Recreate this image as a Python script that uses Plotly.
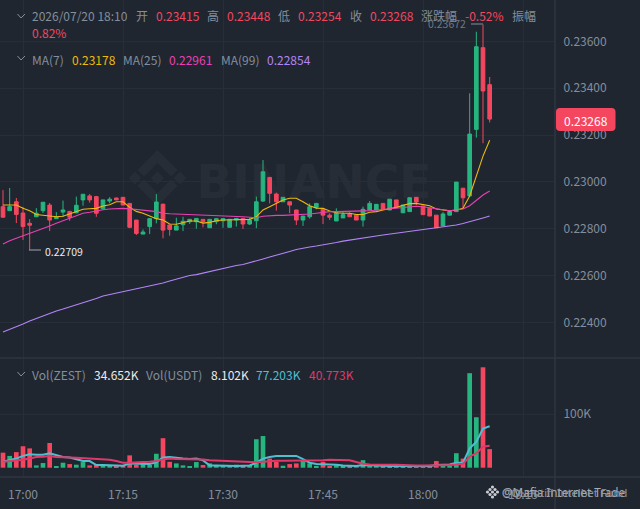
#!/usr/bin/python3

import pandas as pd
import plotly.graph_objects as go

#################
# data
#################
times = pd.date_range("2026-07-20 16:57", periods=74, freq="min")

opens = [0.22894, 0.22877, 0.22915, 0.22867, 0.22823, 0.22851, 0.22877, 0.22901, 0.22843, 0.22871,
         0.22874, 0.22868, 0.22923, 0.22940, 0.22937, 0.22885, 0.22918, 0.22931, 0.22934, 0.22908,
         0.22837, 0.22777, 0.22809, 0.22843, 0.22905, 0.22816, 0.22794, 0.22817, 0.22830, 0.22830,
         0.22840, 0.22804, 0.22830, 0.22834, 0.22806, 0.22837, 0.22844, 0.22820, 0.22834, 0.22918,
         0.23019, 0.22948, 0.22915, 0.22915, 0.22880, 0.22837, 0.22851, 0.22891, 0.22883, 0.22858,
         0.22833, 0.22846, 0.22863, 0.22858, 0.22837, 0.22880, 0.22880, 0.22908, 0.22880, 0.22923,
         0.22868, 0.22873, 0.22934, 0.22897, 0.22887, 0.22858, 0.22812, 0.22858, 0.22873, 0.22973,
         0.22940, 0.23224, 0.23573, 0.23415]
closes = [0.22849, 0.22894, 0.22861, 0.22809, 0.22815, 0.22866, 0.22913, 0.22837, 0.22851, 0.22880,
          0.22849, 0.22900, 0.22947, 0.22923, 0.22866, 0.22923, 0.22926, 0.22923, 0.22901, 0.22806,
          0.22780, 0.22786, 0.22843, 0.22914, 0.22794, 0.22797, 0.22812, 0.22832, 0.22840, 0.22844,
          0.22830, 0.22840, 0.22843, 0.22843, 0.22840, 0.22844, 0.22820, 0.22837, 0.22915, 0.23043,
          0.22951, 0.22915, 0.22934, 0.22901, 0.22837, 0.22854, 0.22894, 0.22908, 0.22858, 0.22849,
          0.22868, 0.22860, 0.22851, 0.22837, 0.22883, 0.22908, 0.22904, 0.22883, 0.22926, 0.22891,
          0.22901, 0.22932, 0.22914, 0.22860, 0.22854, 0.22804, 0.22863, 0.22873, 0.22999, 0.22932,
          0.23204, 0.23577, 0.23388, 0.23268]
highs = [0.22965, 0.22974, 0.22931, 0.22893, 0.22841, 0.22888, 0.22914, 0.22910, 0.22871, 0.22920,
         0.22876, 0.22937, 0.22948, 0.22948, 0.22940, 0.22923, 0.22935, 0.22933, 0.22935, 0.22910,
         0.22837, 0.22797, 0.22846, 0.22948, 0.22905, 0.22816, 0.22847, 0.22851, 0.22841, 0.22846,
         0.22841, 0.22841, 0.22846, 0.22846, 0.22841, 0.22846, 0.22846, 0.22846, 0.22937, 0.23093,
         0.23021, 0.22954, 0.22935, 0.22915, 0.22880, 0.22854, 0.22908, 0.22910, 0.22888, 0.22866,
         0.22887, 0.22873, 0.22870, 0.22858, 0.22894, 0.22918, 0.22905, 0.22910, 0.22927, 0.22923,
         0.22901, 0.22935, 0.22935, 0.22897, 0.22888, 0.22858, 0.22871, 0.22876, 0.22999, 0.22974,
         0.23378, 0.23641, 0.23672, 0.23448]
lows = [0.22849, 0.22877, 0.22824, 0.22752, 0.22709, 0.22850, 0.22867, 0.22790, 0.22843, 0.22851,
        0.22834, 0.22866, 0.22898, 0.22911, 0.22851, 0.22883, 0.22908, 0.22923, 0.22901, 0.22802,
        0.22773, 0.22777, 0.22777, 0.22823, 0.22759, 0.22770, 0.22794, 0.22790, 0.22820, 0.22800,
        0.22806, 0.22804, 0.22819, 0.22804, 0.22806, 0.22809, 0.22799, 0.22816, 0.22802, 0.22915,
        0.22908, 0.22877, 0.22915, 0.22866, 0.22816, 0.22812, 0.22843, 0.22883, 0.22820, 0.22837,
        0.22833, 0.22846, 0.22851, 0.22837, 0.22809, 0.22880, 0.22880, 0.22883, 0.22880, 0.22891,
        0.22868, 0.22873, 0.22901, 0.22860, 0.22854, 0.22803, 0.22812, 0.22858, 0.22873, 0.22887,
        0.22940, 0.23189, 0.23165, 0.23254]

ma7 = [0.22901, 0.22901, 0.22901, 0.22887, 0.22877, 0.22861, 0.22857, 0.22856, 0.22851, 0.22853,
       0.22863, 0.22873, 0.22883, 0.22885, 0.22887, 0.22897, 0.22902, 0.22915, 0.22915, 0.22891,
       0.22874, 0.22866, 0.22854, 0.22843, 0.22837, 0.22820, 0.22819, 0.22826, 0.22833, 0.22833,
       0.22824, 0.22827, 0.22834, 0.22837, 0.22837, 0.22840, 0.22840, 0.22840, 0.22851, 0.22880,
       0.22894, 0.22908, 0.22923, 0.22930, 0.22930, 0.22915, 0.22898, 0.22888, 0.22887, 0.22876,
       0.22868, 0.22866, 0.22866, 0.22861, 0.22861, 0.22870, 0.22873, 0.22880, 0.22884, 0.22891,
       0.22900, 0.22907, 0.22908, 0.22902, 0.22898, 0.22884, 0.22880, 0.22876, 0.22880, 0.22887,
       0.22940, 0.23029, 0.23110, 0.23178]
ma25 = [0.22735, 0.22749, 0.22759, 0.22769, 0.22780, 0.22791, 0.22802, 0.22812, 0.22823, 0.22834,
        0.22844, 0.22857, 0.22866, 0.22870, 0.22877, 0.22881, 0.22884, 0.22887, 0.22887, 0.22885,
        0.22883, 0.22879, 0.22876, 0.22873, 0.22866, 0.22864, 0.22863, 0.22861, 0.22861, 0.22860,
        0.22860, 0.22858, 0.22858, 0.22857, 0.22856, 0.22854, 0.22851, 0.22849, 0.22847, 0.22853,
        0.22856, 0.22857, 0.22857, 0.22858, 0.22860, 0.22861, 0.22863, 0.22866, 0.22871, 0.22873,
        0.22873, 0.22873, 0.22873, 0.22874, 0.22876, 0.22877, 0.22880, 0.22883, 0.22885, 0.22888,
        0.22890, 0.22894, 0.22896, 0.22894, 0.22890, 0.22883, 0.22879, 0.22877, 0.22880, 0.22884,
        0.22898, 0.22923, 0.22944, 0.22961]
ma99 = [0.22359, 0.22370, 0.22380, 0.22393, 0.22406, 0.22417, 0.22427, 0.22440, 0.22449, 0.22457,
        0.22466, 0.22474, 0.22483, 0.22491, 0.22502, 0.22513, 0.22519, 0.22525, 0.22532, 0.22538,
        0.22543, 0.22549, 0.22555, 0.22562, 0.22568, 0.22577, 0.22585, 0.22594, 0.22600, 0.22604,
        0.22611, 0.22617, 0.22624, 0.22630, 0.22636, 0.22643, 0.22647, 0.22654, 0.22662, 0.22671,
        0.22679, 0.22688, 0.22696, 0.22703, 0.22711, 0.22718, 0.22722, 0.22726, 0.22730, 0.22735,
        0.22741, 0.22747, 0.22752, 0.22756, 0.22760, 0.22765, 0.22769, 0.22773, 0.22777, 0.22780,
        0.22783, 0.22786, 0.22790, 0.22794, 0.22799, 0.22803, 0.22807, 0.22812, 0.22816, 0.22822,
        0.22829, 0.22837, 0.22846, 0.22854]

# volume in thousands
volume = [28, 22, 29, 40, 36, 4.3, 8.7, 46, 3, 9.3,
          6.8, 5.6, 10.5, 4.3, 6, 4.3, 4.3, 1.9, 4.3, 23,
          5.6, 11.8, 5, 26, 55, 11, 8, 4.3, 3, 10.5,
          5, 8, 4.3, 4.3, 5, 5.6, 2.5, 5, 53, 59,
          17, 11, 3.7, 6.8, 8, 13, 8, 3, 11, 3,
          4.3, 1.9, 3, 4.3, 14, 6, 4.3, 2.5, 3.7, 3,
          2.5, 3.7, 1.9, 3, 3.7, 12.4, 5, 4.3, 27, 17,
          176, 94, 187, 34.652]
vol_ma_fast = [11, 14, 17, 22, 25, 24, 24, 27, 24, 20,
               19, 15, 12.4, 12.4, 5, 5, 5, 3.7, 3.7, 8,
               8, 8, 6.8, 10, 19, 20, 18, 17, 16, 17,
               13.6, 4.3, 4.3, 3.7, 3.7, 3, 3.7, 4.3, 9.3, 17,
               20, 21.7, 21.7, 21.7, 22, 16, 9.3, 6.8, 6.8, 6.8,
               5.6, 4.3, 3, 3, 5, 5, 5, 3.7, 3, 3.7,
               3, 3, 3, 3, 3, 5, 5, 6, 9.3, 9.3,
               36, 48, 73, 77.203]
vol_ma_slow = [11, 12, 13, 15, 17, 20, 20.5, 22, 20, 19,
               19, 18.6, 18, 18, 17, 15.5, 15, 12.4, 9.3, 9.3,
               10.5, 10.5, 11, 12.4, 15.5, 17, 16, 16, 15.5, 15.5,
               15.5, 14, 13.6, 13, 13, 12.4, 12, 10.5, 10, 11,
               12.4, 13, 13, 13, 13.6, 14, 14, 14, 14, 15,
               15, 15, 14, 10.5, 7.4, 6, 6, 6.8, 6, 5.6,
               5, 4.3, 4.3, 4.3, 4.3, 4.3, 5, 5, 6, 7.4,
               20.5, 27, 39, 40.773]

price_ticks = [0.224, 0.226, 0.228, 0.230, 0.232, 0.234, 0.236]
vol_ticks = [100]
vol_tick_labels = ["100K"]

#################
# colours
#################
bg = "#1f2630"
grid = "#272e39"
sep_col = "#2f3641"
txt = "#848e9c"
bright = "#eaecef"
up = "#27b57f"
down = "#f4465f"
wm = "#272d37"
font_main = "Noto Sans CJK SC"

W, H = 640, 509


def px(x):
    return x / W


def py(y):
    return 1 - y / H


fig = go.Figure()

fig.add_trace(go.Candlestick(x=times, open=opens, high=highs, low=lows, close=closes,
                             xaxis="x", yaxis="y",
                             increasing=dict(line=dict(color=up, width=1), fillcolor=up),
                             decreasing=dict(line=dict(color=down, width=1), fillcolor=down)))
fig.add_trace(go.Scatter(x=times, y=ma7, mode="lines", line=dict(color="#f0b90b", width=1.1)))
fig.add_trace(go.Scatter(x=times, y=ma25, mode="lines", line=dict(color="#eb40b5", width=1.1)))
fig.add_trace(go.Scatter(x=times, y=ma99, mode="lines", line=dict(color="#b385f8", width=1.1)))

bar_colors = [up if c >= o else down for o, c in zip(opens, closes)]
fig.add_trace(go.Bar(x=times, y=volume, marker=dict(color=bar_colors, line=dict(width=0)),
                     xaxis="x2", yaxis="y2"))
fig.add_trace(go.Scatter(x=times, y=vol_ma_fast, mode="lines", xaxis="x2", yaxis="y2",
                         line=dict(color="#4fbfd0", width=2)))
fig.add_trace(go.Scatter(x=times, y=vol_ma_slow, mode="lines", xaxis="x2", yaxis="y2",
                         line=dict(color="#e0386a", width=2)))

x_range = ["2026-07-20 16:56:33", "2026-07-20 18:19:48"]
x_common = dict(type="date", range=x_range, domain=[0, px(555)], dtick=900000,
                tick0="2026-07-20 17:00", tickformat="%H:%M", showgrid=True, gridcolor=grid,
                gridwidth=1, zeroline=False, showline=False, fixedrange=True)

fig.update_layout(
    width=W, height=H, margin=dict(l=0, r=0, t=0, b=0), autosize=False,
    paper_bgcolor=bg, plot_bgcolor="rgba(0,0,0,0)", showlegend=False,
    font=dict(family=font_main, size=12, color=txt),
    bargap=0.3, boxgap=0.45, boxgroupgap=0,
    xaxis=dict(x_common, anchor="y", showticklabels=False, rangeslider=dict(visible=False)),
    xaxis2=dict(x_common, anchor="y2", showticklabels=True, ticks="outside", ticklen=7,
                tickcolor=bg, tickfont=dict(size=12, color=txt)),
    yaxis=dict(domain=[py(358), 1], range=[0.22248, 0.237765], side="right", anchor="x",
               tickvals=price_ticks, tickformat=".5f", gridcolor=grid, zeroline=False,
               ticks="outside", ticklen=5, tickcolor=bg, tickfont=dict(size=12, color=txt)),
    yaxis2=dict(domain=[py(477), py(358)], range=[-17.3, 204.3], side="right", anchor="x2",
                tickvals=vol_ticks, ticktext=vol_tick_labels, gridcolor=grid, zeroline=False,
                ticks="outside", ticklen=5, tickcolor=bg, tickfont=dict(size=12, color=txt)),
)


#################
# watermark, drawn under the candles
#################
def poly(points, color):
    path = "M" + " L".join(f"{px(a):.5f},{py(b):.5f}" for a, b in points) + " Z"
    fig.add_shape(type="path", path=path, xref="paper", yref="paper", layer="below",
                  fillcolor=color, line=dict(width=0))


def diamond(cx, cy, r, color):
    poly([(cx, cy - r), (cx + r, cy), (cx, cy + r), (cx - r, cy)], color)


cx, cy = 157.5, 178
diamond(cx, cy, 6.5, wm)
diamond(cx - 22.5, cy, 6.5, wm)
diamond(cx + 22.5, cy, 6.5, wm)
poly([(cx, 150), (cx + 20, 170), (cx + 13.5, 176.5), (cx, 163), (cx - 13.5, 176.5), (cx - 20, 170)], wm)
poly([(cx, 206), (cx + 20, 186), (cx + 13.5, 179.5), (cx, 193), (cx - 13.5, 179.5), (cx - 20, 186)], wm)

fig.add_shape(type="rect", xref="paper", yref="paper", layer="below",
              x0=px(190), x1=px(438), y0=py(205), y1=py(152), line=dict(width=0),
              fillcolor="rgba(0,0,0,0)",
              label=dict(text="<b>BINANCE</b>", textposition="middle center",
                         font=dict(family="DejaVu Sans", size=47, color=wm)))

#################
# pane separators
#################
for y_sep in [358, 477]:
    fig.add_shape(type="line", xref="paper", yref="paper", x0=0, x1=1, y0=py(y_sep), y1=py(y_sep),
                  line=dict(color=sep_col, width=1.5))
fig.add_shape(type="line", xref="paper", yref="paper", x0=px(555), x1=px(555), y0=0, y1=1,
              line=dict(color=sep_col, width=1.5))


#################
# texts
#################
def label(x, y, text, color=txt, size=12, anchor="left", family=font_main):
    fig.add_annotation(x=px(x), y=py(y), xref="paper", yref="paper", text=text, showarrow=False,
                       xanchor=anchor, yanchor="middle", xshift=0, borderpad=0, align="left",
                       font=dict(family=family, size=size, color=color))


def chevron(y):
    path = f"M{px(17.5):.5f},{py(y):.5f} L{px(21):.5f},{py(y + 4):.5f} L{px(25):.5f},{py(y):.5f}"
    fig.add_shape(type="path", path=path, xref="paper", yref="paper", line=dict(color=txt, width=1))


chevron(14)
chevron(56)
chevron(372)

label(31, 16, "2026/07/20 18:10")
label(135, 16, "开")
label(155, 16, "0.23415", down)
label(206, 16, "高")
label(226, 16, "0.23448", down)
label(277, 16, "低")
label(297, 16, "0.23254", down)
label(349, 16, "收")
label(369, 16, "0.23268", down)
label(420, 16, "涨跌幅")
label(464, 16, "-0.52%", down)
label(511, 16, "振幅")
label(31, 33, "0.82%", down)

label(31, 59, "MA(7)")
label(71, 59, "0.23178", "#f0b90b")
label(122, 59, "MA(25)")
label(168, 59, "0.22961", "#eb40b5")
label(220, 59, "MA(99)")
label(266, 59, "0.22854", "#b385f8")

label(31, 374, "Vol(ZEST)")
label(93, 374, "34.652K", bright)
label(145, 374, "Vol(USDT)")
label(210, 374, "8.102K", bright)
label(255, 374, "77.203K", "#4fbfd0")
label(308, 374, "40.773K", "#e0386a")

# highest / lowest price markers
label(467, 24, "0.23672", "#6f7885", size=10.5, anchor="right")
fig.add_shape(type="line", xref="paper", yref="paper", x0=px(471), x1=px(483), y0=py(24), y1=py(24),
              line=dict(color="#848e9c", width=1))
label(44, 251, "0.22709", bright, size=10.5)
fig.add_shape(type="line", xref="paper", yref="paper", x0=px(29), x1=px(41), y0=py(250), y1=py(250),
              line=dict(color="#a0a6b0", width=1))

# last price tag
r = 4
x0, x1, y0, y1 = 556, 615.5, 108, 131
tag = (f"M{px(x0 + r):.5f},{py(y0):.5f} L{px(x1 - r):.5f},{py(y0):.5f} "
       f"Q{px(x1):.5f},{py(y0):.5f} {px(x1):.5f},{py(y0 + r):.5f} L{px(x1):.5f},{py(y1 - r):.5f} "
       f"Q{px(x1):.5f},{py(y1):.5f} {px(x1 - r):.5f},{py(y1):.5f} L{px(x0 + r):.5f},{py(y1):.5f} "
       f"Q{px(x0):.5f},{py(y1):.5f} {px(x0):.5f},{py(y1 - r):.5f} L{px(x0):.5f},{py(y0 + r):.5f} "
       f"Q{px(x0):.5f},{py(y0):.5f} {px(x0 + r):.5f},{py(y0):.5f} Z")
fig.add_shape(type="path", path=tag, xref="paper", yref="paper", fillcolor=down, line=dict(width=0))
label(585.7, 120, "0.23268", "#ffffff", anchor="center")

# overlapping credit lines, bottom right
for row, col in [(-5, [0]), (-2.5, [-2.5, 2.5]), (0, [-5, 0, 5]), (2.5, [-2.5, 2.5]), (5, [0])]:
    for c in col:
        fig.add_shape(type="circle", xref="paper", yref="paper", fillcolor="#c8ccd2", line=dict(width=0),
                      x0=px(492.5 + c - 1.6), x1=px(492.5 + c + 1.6),
                      y0=py(492 + row + 1.6), y1=py(492 + row - 1.6))
label(501, 492, "@Mafia Internet Trade", "#a7adb6", size=11.7, family="Noto Sans")
label(501, 492, "©Quantifi Intelbet Fund", "#8f96a1", size=11.2, family="Noto Sans")

fig.write_html("out.html", config=dict(displayModeBar=False),
               post_script="document.body.style.margin='0';")
